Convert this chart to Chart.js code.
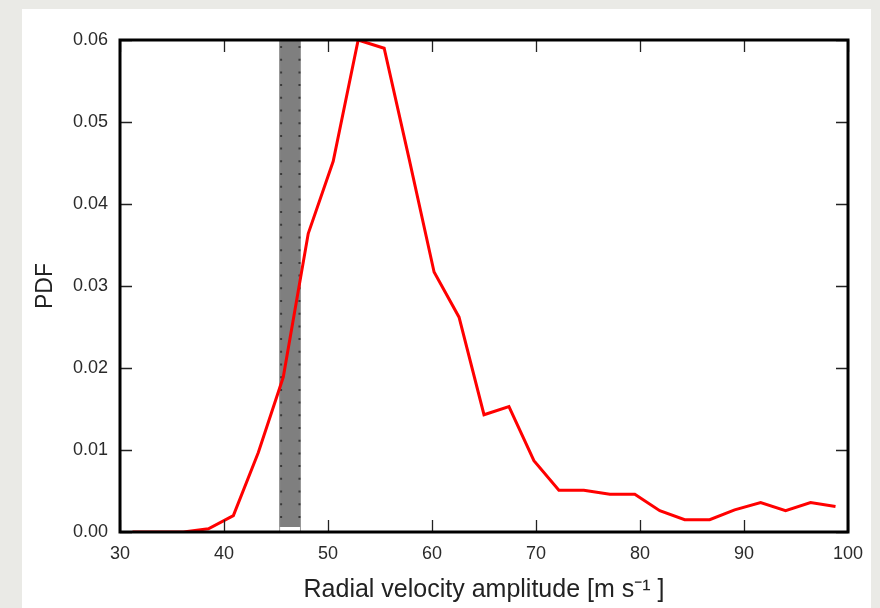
<!DOCTYPE html>
<html>
<head>
<meta charset="utf-8">
<script src="https://cdn.jsdelivr.net/npm/chart.js@4.4.1/dist/chart.umd.min.js"></script>
<style>
  html, body { margin: 0; padding: 0; background: #eaeae6; width: 880px; height: 608px; overflow: hidden; }
  #sheet { position: absolute; left: 22px; top: 9px; width: 849px; height: 599px; background: #ffffff; }
  #c { position: absolute; left: 0; top: 0; }
</style>
</head>
<body>
<div id="sheet"></div>
<canvas id="c" width="880" height="608"></canvas>
<script>
// Data
const velocity = [31.2, 33.6, 36.1, 38.5, 40.9, 43.3, 45.7, 48.1, 50.5, 52.9, 55.4, 57.8, 60.2, 62.6, 65.0, 67.4, 69.8, 72.2, 74.6, 77.1, 79.5, 81.9, 84.3, 86.7, 89.1, 91.6, 94.0, 96.4, 98.8];
const pdf = [0, 0, 0, 0.0004, 0.0020, 0.0097, 0.0189, 0.0364, 0.0452, 0.0600, 0.0590, 0.0455, 0.0317, 0.0262, 0.0143, 0.0153, 0.0087, 0.0051, 0.0051, 0.0046, 0.0046, 0.0026, 0.0015, 0.0015, 0.0027, 0.0036, 0.0026, 0.0036, 0.0031];
const band = [45.3, 47.4];           // shaded velocity interval
const xTicks = [30, 40, 50, 60, 70, 80, 90, 100];
const yTicks = [0.00, 0.01, 0.02, 0.03, 0.04, 0.05, 0.06];

const FONT = "'Liberation Sans', Arial, Helvetica, sans-serif";

const framePlugin = {
  id: 'frame',
  beforeDatasetsDraw(chart) {
    const {ctx, chartArea: a, scales: {x}} = chart;
    const x0 = x.getPixelForValue(band[0]);
    const x1 = x.getPixelForValue(band[1]);
    ctx.save();
    ctx.fillStyle = '#7f7f7f';
    ctx.fillRect(x0, a.top, x1 - x0, a.bottom - a.top - 5);
    ctx.strokeStyle = '#9a9a9a';
    ctx.lineWidth = 1;
    ctx.beginPath();
    ctx.moveTo(x0 + 0.5, a.top); ctx.lineTo(x0 + 0.5, a.bottom);
    ctx.moveTo(x1 - 0.5, a.top); ctx.lineTo(x1 - 0.5, a.bottom);
    ctx.stroke();
    ctx.strokeStyle = '#3a3a3a';
    ctx.lineWidth = 2;
    ctx.setLineDash([2, 10.7]);
    ctx.beginPath();
    ctx.moveTo(x0 + 2, a.top + 6); ctx.lineTo(x0 + 2, a.bottom - 4);
    ctx.moveTo(x1 - 1.5, a.top + 6); ctx.lineTo(x1 - 1.5, a.bottom - 4);
    ctx.stroke();
    ctx.restore();
  },
  afterDatasetsDraw(chart) {
    const {ctx, chartArea: a, scales: {x, y}} = chart;
    const TL = 12;
    ctx.save();
    ctx.strokeStyle = '#222';
    ctx.lineWidth = 1.3;
    ctx.beginPath();
    xTicks.forEach(v => {
      const px = Math.round(x.getPixelForValue(v)) + 0.5;
      ctx.moveTo(px, a.bottom); ctx.lineTo(px, a.bottom - TL);
      ctx.moveTo(px, a.top); ctx.lineTo(px, a.top + TL);
    });
    yTicks.forEach(v => {
      const py = Math.round(y.getPixelForValue(v)) + 0.5;
      ctx.moveTo(a.left, py); ctx.lineTo(a.left + TL, py);
      ctx.moveTo(a.right, py); ctx.lineTo(a.right - TL, py);
    });
    ctx.stroke();
    ctx.strokeStyle = '#000';
    ctx.lineWidth = 3;
    ctx.strokeRect(a.left, a.top, a.right - a.left, a.bottom - a.top);
    ctx.restore();
  }
};

new Chart(document.getElementById('c'), {
  type: 'line',
  data: {
    datasets: [{
      data: velocity.map((v, i) => ({x: v, y: pdf[i]})),
      borderColor: '#ff0000',
      borderWidth: 3,
      pointRadius: 0,
      tension: 0,
      fill: false
    }]
  },
  options: {
    responsive: false,
    animation: false,
    devicePixelRatio: 1,
    layout: { padding: { left: 0, top: 40, right: 32, bottom: 0 } },
    plugins: { legend: { display: false }, tooltip: { enabled: false } },
    scales: {
      x: {
        type: 'linear',
        min: 30, max: 100,
        afterBuildTicks: s => { s.ticks = xTicks.map(v => ({value: v})); },
        afterFit: s => { s.height = 76; },
        grid: { display: false, drawTicks: false },
        border: { display: false },
        ticks: { padding: 11, color: '#2a2a2a', font: { family: FONT, size: 18 }, maxRotation: 0 },
        title: { display: true, text: 'Radial velocity amplitude [m s\u207B\u00B9 ]', color: '#222', font: { family: FONT, size: 25 }, padding: { top: 0, bottom: 3 } }
      },
      y: {
        type: 'linear',
        min: 0, max: 0.06,
        afterBuildTicks: s => { s.ticks = yTicks.map(v => ({value: v})); },
        afterFit: s => { s.width = 120; },
        grid: { display: false, drawTicks: false },
        border: { display: false },
        ticks: { padding: 12, color: '#2a2a2a', font: { family: FONT, size: 18 }, callback: v => Number(v).toFixed(2) },
        title: { display: true, text: 'PDF', color: '#222', font: { family: FONT, size: 23 }, padding: { top: 32, bottom: 0 } }
      }
    }
  },
  plugins: [framePlugin]
});
</script>
</body>
</html>
